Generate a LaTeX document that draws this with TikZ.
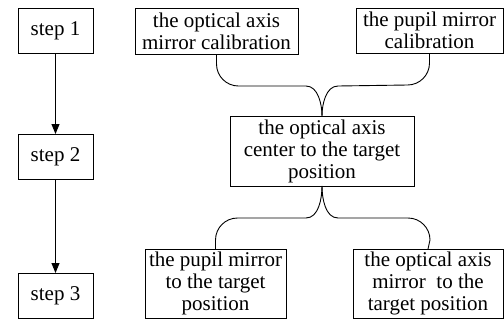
\documentclass[tikz,border=0pt]{standalone}
\usepackage{fontspec}
\setmainfont{Liberation Serif}
\usetikzlibrary{calc,arrows.meta}
\begin{document}
\begin{tikzpicture}[x=1pt,y=1pt,
  every node/.style={font=\fontsize{21}{22}\selectfont},
  box/.style={draw,line width=0.9pt,align=center,inner sep=0pt,outer sep=0pt},
  stepbox/.style={box,minimum width=75,minimum height=45},
  link/.style={line width=0.9pt},
  arr/.style={line width=0.9pt,-{Triangle[length=10pt,width=8pt]}}]
\useasboundingbox (0,0) rectangle (504,-322);
\node[stepbox] (s1) at (55.5,-30.5) {step 1};
\node[stepbox] (s2) at (55.5,-156.5) {step 2};
\node[stepbox] (s3) at (55.5,-295.5) {step 3};
\node[box,minimum width=163,minimum height=46] (A) at (216.5,-31) {the optical axis\\mirror calibration};
\node[box,minimum width=147,minimum height=45] (B) at (429.5,-30.5) {the pupil mirror\\calibration};
\node[box,minimum width=184,minimum height=70] (C) at (322,-151) {the optical axis\\center to the target\\position};
\node[box,minimum width=141,minimum height=69] (D) at (215.5,-283.5) {the pupil mirror\\to the target\\position};
\node[box,minimum width=150,minimum height=69] (E) at (428,-283.5) {the optical axis\\mirror~ to the\\target position};
\draw[arr] (s1) -- (s2);
\draw[arr] (s2) -- (s3);
% top brace
\draw[link] (A.south) -- ++(0,-10) to[out=-90,in=180] ++(22,-22)
  -- ($(C.north)+(-16,30)$) to[out=0,in=90,looseness=0.9] (C.north);
\draw[link] (B.south) -- ++(0,-10) to[out=-90,in=0] ++(-22,-22)
  -- ($(C.north)+(16,30)$) to[out=180,in=90,looseness=0.9] (C.north);
% bottom brace
\draw[link] (C.south) to[out=-90,in=0,looseness=0.9] ($(C.south)+(-16,-32)$)
  -- ($(D.north)+(22,31)$) to[out=180,in=90] ++(-22,-22) -- (D.north);
\draw[link] (C.south) to[out=-90,in=180,looseness=0.9] ($(C.south)+(16,-32)$)
  -- ($(E.north)+(-20,31)$) to[out=0,in=90] ++(22,-22) -- (E.north);
\end{tikzpicture}
\end{document}
